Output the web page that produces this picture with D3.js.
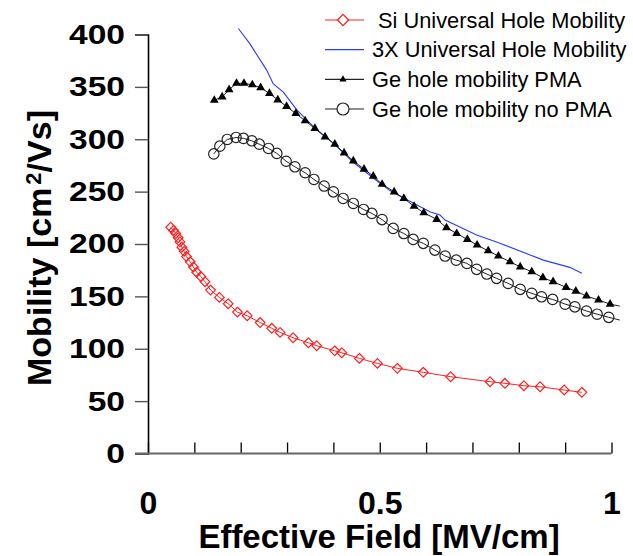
<!DOCTYPE html>
<html>
<head>
<meta charset="utf-8">
<script src="https://cdn.jsdelivr.net/npm/d3@7"></script>
<style>
  body { margin: 0; background: #fff; }
  svg { font-family: 'Liberation Sans', Arial, sans-serif; }
</style>
</head>
<body>
<div id="wrapper"></div>
<script>
// series
const siField = [0.049, 0.055, 0.060, 0.065, 0.069, 0.073, 0.078, 0.083, 0.091, 0.098, 0.105, 0.114, 0.123, 0.135, 0.154, 0.173, 0.193, 0.214, 0.242, 0.267, 0.285, 0.313, 0.346, 0.364, 0.403, 0.418, 0.456, 0.495, 0.538, 0.594, 0.653, 0.738, 0.770, 0.811, 0.846, 0.898, 0.936];
const siMob = [216, 213, 210, 206, 202, 197, 193, 188, 183, 178, 173, 169, 164, 156, 149, 143, 135, 131.5, 125, 119.5, 115.6, 110.5, 105.7, 102.9, 98, 96.2, 90.8, 86, 81.3, 77.5, 73.3, 68.5, 67, 64.7, 63.7, 60.6, 58.4];

const x3Field = [0.195, 0.220, 0.256, 0.270, 0.292, 0.321, 0.357, 0.400, 0.443, 0.486, 0.522, 0.539, 0.608, 0.630, 0.641, 0.709, 0.752, 0.853, 0.910, 0.936];
const x3Mob = [405.7, 391, 366, 353, 345, 328, 312, 296, 278, 263, 251, 246.7, 230.7, 227.6, 222.8, 208.5, 202, 184.6, 177.7, 172];

const pmaField = [0.143, 0.160, 0.175, 0.191, 0.207, 0.225, 0.243, 0.262, 0.280, 0.299, 0.319, 0.339, 0.360, 0.382, 0.403, 0.423, 0.443, 0.466, 0.486, 0.505, 0.531, 0.552, 0.574, 0.595, 0.623, 0.644, 0.666, 0.689, 0.710, 0.734, 0.756, 0.781, 0.803, 0.828, 0.852, 0.874, 0.902, 0.923, 0.946, 0.972, 0.997, 1.018];
const pmaMob = [337.2, 340.5, 347.3, 353.4, 353.4, 352, 349.2, 343.7, 337.6, 331.3, 324.6, 317.6, 310.3, 302.3, 295.3, 287, 279.4, 271.5, 264.8, 257, 249.8, 243.5, 236, 229.8, 223.5, 215.5, 210, 204.4, 199, 193.5, 188.5, 183, 178.2, 173.5, 167.8, 164, 158.6, 155, 150.3, 146.5, 142.6, 140.7];

const noPmaField = [0.142, 0.155, 0.171, 0.190, 0.206, 0.224, 0.240, 0.260, 0.278, 0.298, 0.317, 0.339, 0.358, 0.380, 0.400, 0.421, 0.443, 0.465, 0.483, 0.505, 0.529, 0.552, 0.572, 0.594, 0.619, 0.641, 0.665, 0.688, 0.709, 0.731, 0.752, 0.777, 0.803, 0.828, 0.849, 0.873, 0.900, 0.921, 0.946, 0.969, 0.994, 1.018];
const noPmaMob = [286, 293.4, 299.8, 301.7, 300.8, 298.5, 295.3, 291.2, 286.5, 279, 273.7, 268, 261.6, 255.3, 249.8, 243.5, 238.7, 233, 229.2, 223.3, 214.9, 210, 204.4, 200.6, 194.2, 188.5, 184.6, 181.5, 175.8, 171.3, 167.2, 162.4, 156.7, 152.9, 149.6, 147.1, 142.6, 140, 136, 133, 130, 127.4];

const seriesNames = [' Si Universal Hole Mobility', '3X Universal Hole Mobility', 'Ge hole mobility PMA', 'Ge hole mobility no PMA'];
const xTicks = [0, 0.1, 0.2, 0.3, 0.4, 0.5, 0.6, 0.7, 0.8, 0.9, 1];
const xLabels = [0, 0.5, 1];
const yTicks = [0, 50, 100, 150, 200, 250, 300, 350, 400];

const zip = (xs, ys) => xs.map((v, i) => ({x: v, y: ys[i]}));

const width = 633, height = 556;
const svg = d3.select('#wrapper').append('svg')
    .attr('width', width)
    .attr('height', height);

const x = d3.scaleLinear().domain([0, 1]).range([148, 611.5]);
const y = d3.scaleLinear().domain([0, 400]).range([453.5, 34.5]);

// y axis (labels are a bit wider than normal in the original)
const stretch = 1.2;
const yAxis = svg.append('g')
    .attr('transform', `translate(${x(0)},0)`)
    .call(d3.axisLeft(y).tickValues(yTicks).tickSize(13).tickPadding(9).tickFormat(d3.format('d')));
yAxis.select('.domain').attr('stroke', '#000').attr('stroke-width', 1.6);
yAxis.selectAll('.tick line').attr('stroke', '#555').attr('stroke-width', 1.4);
yAxis.selectAll('.tick text')
    .attr('x', -23 / stretch)
    .attr('transform', `scale(${stretch},1)`)
    .attr('font-size', 28)
    .attr('font-weight', 'bold')
    .attr('fill', '#000');

// x axis, ticks pointing into the plot
const xAxis = svg.append('g')
    .attr('transform', `translate(0,${y(0)})`)
    .call(d3.axisBottom(x).tickValues(xTicks).tickSize(-11).tickPadding(38)
        .tickFormat(d => xLabels.includes(d) ? d3.format('~g')(d) : ''));
xAxis.select('.domain').remove();
xAxis.append('line')
    .attr('x1', 135).attr('x2', x(1))
    .attr('stroke', '#666').attr('stroke-width', 2.2);
xAxis.selectAll('.tick line').attr('stroke', '#000').attr('stroke-width', 1.3);
xAxis.selectAll('.tick text')
    .attr('font-size', 32)
    .attr('font-weight', 'bold')
    .attr('fill', '#000');

// axis titles
svg.append('text')
    .attr('x', 379).attr('y', 548)
    .attr('text-anchor', 'middle')
    .attr('font-size', 33).attr('font-weight', 'bold')
    .text('Effective Field [MV/cm]');

const yTitle = svg.append('text')
    .attr('transform', 'translate(51,248) rotate(-90)')
    .attr('text-anchor', 'middle')
    .attr('font-size', 34).attr('font-weight', 'bold');
yTitle.append('tspan').text('Mobility [cm');
yTitle.append('tspan').attr('font-size', 22).attr('dx', 3).attr('baseline-shift', '45%').text('2');
yTitle.append('tspan').text('/Vs]');

const line = d3.line().x(d => x(d.x)).y(d => y(d.y));
const plot = svg.append('g');

const diamond = d3.symbol().type(d3.symbolDiamond2).size(60);
const triangle = d3.symbol().type(d3.symbolTriangle).size(34);

// Si
const siData = zip(siField, siMob);
plot.append('path').datum(siData)
    .attr('d', line).attr('fill', 'none').attr('stroke', '#ff2020').attr('stroke-width', 1);
plot.selectAll('.si').data(siData).join('path')
    .attr('class', 'si')
    .attr('transform', d => `translate(${x(d.x)},${y(d.y)})`)
    .attr('d', diamond)
    .attr('fill', 'none').attr('stroke', '#ff2020').attr('stroke-width', 1.2);

// 3X
plot.append('path').datum(zip(x3Field, x3Mob))
    .attr('d', line).attr('fill', 'none').attr('stroke', '#2a3cff').attr('stroke-width', 1.1);

// Ge PMA
const pmaData = zip(pmaField, pmaMob);
plot.append('path').datum(pmaData)
    .attr('d', line).attr('fill', 'none').attr('stroke', '#222').attr('stroke-width', 1);
plot.selectAll('.pma').data(pmaData.filter(d => d.x <= 1)).join('path')
    .attr('class', 'pma')
    .attr('transform', d => `translate(${x(d.x)},${y(d.y)})`)
    .attr('d', triangle)
    .attr('fill', '#000');

// Ge no PMA
const noPmaData = zip(noPmaField, noPmaMob);
plot.append('path').datum(noPmaData)
    .attr('d', line).attr('fill', 'none').attr('stroke', '#222').attr('stroke-width', 1);
plot.selectAll('.nopma').data(noPmaData.filter(d => d.x <= 1)).join('circle')
    .attr('class', 'nopma')
    .attr('cx', d => x(d.x)).attr('cy', d => y(d.y))
    .attr('r', 5.2)
    .attr('fill', 'none').attr('stroke', '#222').attr('stroke-width', 1.2);

// legend
const legendY = d3.scalePoint().domain(seriesNames).range([20, 109]);
const legend = svg.append('g');
const rows = legend.selectAll('g').data(seriesNames).join('g')
    .attr('transform', d => `translate(0,${legendY(d)})`);
const legendColors = ['#ff2020', '#2a3cff', '#222', '#222'];
rows.append('line')
    .attr('x1', 325).attr('x2', 364)
    .attr('stroke', (d, i) => legendColors[i]).attr('stroke-width', 1.2);
rows.append('text')
    .attr('x', 372)
    .attr('y', 7.5)
    .attr('font-size', 21.8)
    .attr('fill', '#000')
    .style('white-space', 'pre')
    .text(d => d);
rows.filter((d, i) => i === 0).append('path')
    .attr('transform', 'translate(343,0)')
    .attr('d', d3.symbol().type(d3.symbolDiamond2).size(80))
    .attr('fill', '#fff').attr('stroke', '#ff2020').attr('stroke-width', 1.3);
rows.filter((d, i) => i === 2).append('path')
    .attr('transform', 'translate(343,0)')
    .attr('d', d3.symbol().type(d3.symbolTriangle).size(22))
    .attr('fill', '#000');
rows.filter((d, i) => i === 3).append('circle')
    .attr('cx', 343).attr('r', 6)
    .attr('fill', '#fff').attr('stroke', '#222').attr('stroke-width', 1.2);
</script>
</body>
</html>
